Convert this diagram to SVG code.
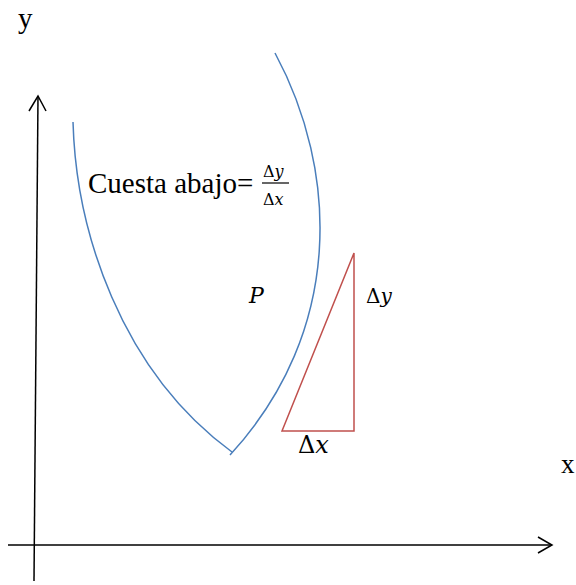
<svg xmlns="http://www.w3.org/2000/svg" width="576" height="585" viewBox="0 0 576 585">
<style>
.axis{stroke:#000;stroke-width:1.5;fill:none}
.curve{stroke:#4a7ebb;stroke-width:1.5;fill:none}
.tri{stroke:#c0504d;stroke-width:1.5;fill:none}
.t{font-family:'Liberation Serif','Times New Roman',Times,serif;fill:#000}
.m{font-family:'DejaVu Serif','Liberation Serif',serif;fill:#000}
</style>
<rect width="576" height="585" fill="#fff"/>
<g id="axes">
<line class="axis" x1="8" y1="545" x2="552" y2="545"/>
<polyline class="axis" points="538,537 552,545 538,553"/>
<line class="axis" x1="34" y1="581" x2="38" y2="96"/>
<polyline class="axis" points="29,111 38,96 46,111"/>
</g>
<g id="curve">
<path class="curve" d="M73,122 C76,230 120,370 232,452"/>
<path class="curve" d="M275,53 C338,170 345,330 230,455"/>
</g>
<g id="triangle">
<polygon class="tri" points="282,431 354,431 354,253"/>
</g>
<g id="labels">
<text class="t" x="18" y="28" font-size="29">y</text>
<text class="t" x="561" y="473" font-size="27">x</text>
<text class="t" x="88" y="193" font-size="29">Cuesta abajo=</text>
<text class="m" x="263" y="177" font-size="16">Δ<tspan font-style="italic">y</tspan></text>
<line x1="262" y1="183" x2="289" y2="183" stroke="#000" stroke-width="1.2"/>
<text class="m" x="263" y="205" font-size="16">Δ<tspan font-style="italic">x</tspan></text>
<text class="m" x="249" y="303" font-size="22" font-style="italic">P</text>
<text class="m" x="366" y="303" font-size="20">Δ<tspan font-style="italic">y</tspan></text>
<text class="m" x="298" y="453" font-size="24">Δ<tspan font-style="italic">x</tspan></text>
</g>
</svg>
